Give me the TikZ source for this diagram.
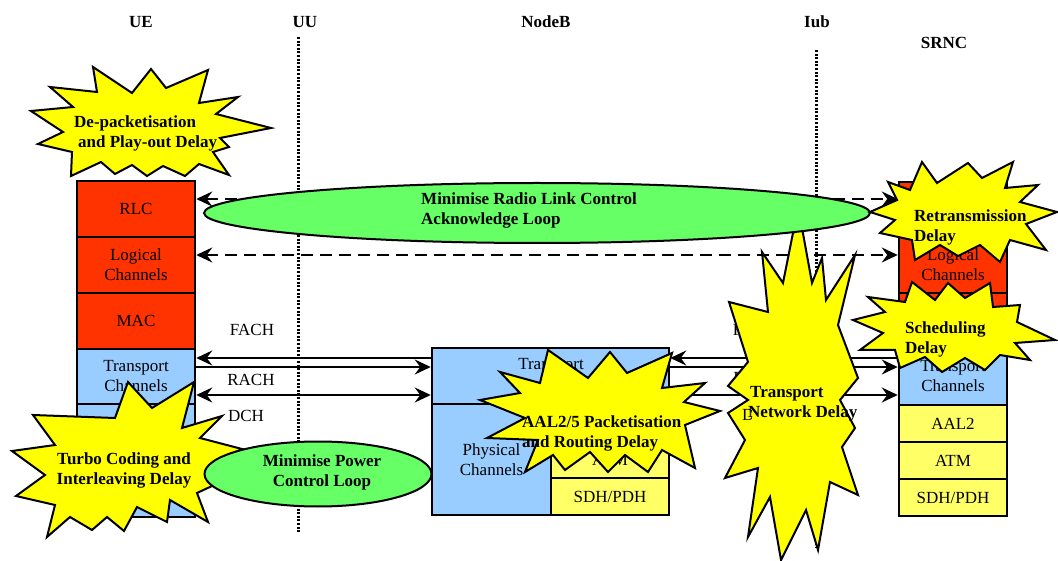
\documentclass[tikz,border=0pt]{standalone}
\usepackage{fontspec}
\setmainfont{Liberation Serif}
\usetikzlibrary{arrows.meta,shapes.geometric}
\definecolor{layerred}{HTML}{FF3300}
\definecolor{layerblue}{HTML}{99CCFF}
\definecolor{layeryellow}{HTML}{FFFF66}
\definecolor{burstyellow}{HTML}{FFFF00}
\definecolor{loopgreen}{HTML}{66FF66}
\tikzset{
  txt/.style={font=\fontsize{17}{20}\selectfont, inner sep=0pt, align=center},
  hdr/.style={font=\bfseries\fontsize{17}{20}\selectfont, inner sep=0pt},
  btxt/.style={font=\bfseries\fontsize{17}{20}\selectfont, inner sep=0pt},
  layerbox/.style={draw=black, line width=2.5pt, inner sep=0pt, txt},
  redlayer/.style={layerbox, fill=layerred},
  bluelayer/.style={layerbox, fill=layerblue},
  yellayer/.style={layerbox, fill=layeryellow},
  uecol/.style={minimum width=118pt},
  srcol/.style={minimum width=108pt},
  iface/.style={line width=3pt, dash pattern=on 2pt off 1.6pt},
  tip/.tip={Stealth[length=16pt,width=15pt,inset=5.5pt]},
  chan/.style={line width=2pt, -tip},
  chanboth/.style={line width=2pt, tip-tip},
  peer/.style={line width=2pt, dash pattern=on 12pt off 7pt, tip-tip},
  burst/.style={draw=black, line width=2pt, fill=burstyellow, line join=miter},
  loopshape/.style={ellipse, draw=black, line width=2pt, fill=loopgreen, inner sep=0pt}
}
\begin{document}
\begin{tikzpicture}[x=1pt,y=-1pt]
\useasboundingbox (0,0) rectangle (1058,561);
\fill[white] (0,0) rectangle (1058,561);

% column headings
\node[hdr] (hUE) at (141,22) {UE};
\node[hdr] (hUU) at (305,22) {UU};
\node[hdr] (hNodeB) at (546,22) {NodeB};
\node[hdr] (hIub) at (817,22) {Iub};
\node[hdr] (hSRNC) at (944,43) {SRNC};

% interfaces
\coordinate (uuTop) at (298,37);
\coordinate (uuBot) at (298,533);
\coordinate (iubTop) at (816,50);
\coordinate (iubBot) at (816,548);
\draw[iface] (uuTop) -- (uuBot);
\draw[iface] (iubTop) -- (iubBot);

% UE protocol stack
\node[redlayer, uecol, minimum height=56pt] (ueRLC) at (136,209) {RLC};
\node[redlayer, uecol, minimum height=56pt] (ueLC) at (136,265) {Logical\\Channels};
\node[redlayer, uecol, minimum height=56pt] (ueMAC) at (136,321) {MAC};
\node[bluelayer, uecol, minimum height=55pt] (ueTC) at (136,376.5) {Transport\\Channels};
\node[bluelayer, uecol, minimum height=113pt] (uePHY) at (136,460.5) {};

% NodeB
\node[bluelayer, minimum width=237pt, minimum height=56pt] (nbTC) at (550.5,376) {};
\node[txt] (nbTCtext) at (551,366) {Transport};
\node[bluelayer, minimum width=119pt, minimum height=111pt] (nbPHY) at (491.5,459.5) {Physical\\Channels};
\node[yellayer, minimum width=118pt, minimum height=37pt] (nbAAL) at (610,422.5) {};
\node[yellayer, minimum width=118pt, minimum height=37pt] (nbATM) at (610,459.5) {ATM};
\node[yellayer, minimum width=118pt, minimum height=37pt] (nbSDH) at (610,496.5) {SDH/PDH};

% SRNC protocol stack
\node[redlayer, srcol, minimum height=55pt] (srRLC) at (953,209.5) {};
\node[redlayer, srcol, minimum height=56pt] (srLC) at (953,265) {Logical\\Channels};
\node[redlayer, srcol, minimum height=55pt] (srMAC) at (953,320.5) {};
\node[bluelayer, srcol, minimum height=57pt] (srTC) at (953,376.5) {Transport\\Channels};
\node[yellayer, srcol, minimum height=37pt] (srAAL) at (953,423.5) {AAL2};
\node[yellayer, srcol, minimum height=37pt] (srATM) at (953,460.5) {ATM};
\node[yellayer, srcol, minimum height=37pt] (srSDH) at (953,497.5) {SDH/PDH};

% rows of the channel arrows
\coordinate (yRLC) at (0,199);
\coordinate (yLog) at (0,255);
\coordinate (yFACH) at (0,358);
\coordinate (yRACH) at (0,367);
\coordinate (yDCH) at (0,395);

% peer-to-peer (dashed) arrows
\draw[peer] (ueRLC.east |- yRLC) -- (srRLC.west |- yRLC);
\draw[peer] (ueLC.east |- yLog) -- (srLC.west |- yLog);

% Uu transport channels
\draw[chan] (nbTC.west |- yFACH) -- (ueTC.east |- yFACH);
\draw[chan] (ueTC.east |- yRACH) -- (nbTC.west |- yRACH);
\draw[chanboth] (ueTC.east |- yDCH) -- (nbTC.west |- yDCH);
\node[txt] (lFACH) at (252,330) {FACH};
\node[txt] (lRACH) at (251,380) {RACH};
\node[txt] (lDCH) at (246,416) {DCH};

% Iub transport channels
\draw[chan] (srTC.west |- yFACH) -- (nbTC.east |- yFACH);
\draw[chan] (nbTC.east |- yRACH) -- (srTC.west |- yRACH);
\draw[chanboth] (nbTC.east |- yDCH) -- (srTC.west |- yDCH);
\node[txt] (rFACH) at (755,330) {FACH};
\node[txt] (rRACH) at (757,378) {RACH};

% transport network delay
\draw[burst] (802,228) -- (812,283) -- (822,258) -- (826,300) -- (855,255) -- (838,325)
  -- (858,378) -- (840,400) -- (855,428) -- (842,447) -- (858,495) -- (830,482)
  -- (818,550) -- (806,510) -- (781,560) -- (770,497) -- (748,537) -- (758,468)
  -- (725,478) -- (745,440) -- (728,413) -- (748,400) -- (728,386) -- (748,362)
  -- (729,302) -- (768,312) -- (762,252) -- (783,283) -- (793,233) -- cycle;
\node[btxt, align=left, anchor=west] (tndText) at (748,404) {\hspace*{2pt}Transport\\Network Delay};
% the DCH label of the Iub side shows only its first letter beside the burst
\begin{scope}
  \clip (730,400) rectangle (751,430);
  \node[txt] (rDCH) at (760,415) {DCH};
\end{scope}

% RLC acknowledge loop
\node[loopshape, minimum width=666pt, minimum height=60pt] (rlcLoop) at (537,213) {};
\node[btxt, align=left, anchor=west] (rlcLoopText) at (421,210) {Minimise Radio Link Control\\Acknowledge Loop};

% de-packetisation delay
\draw[burst] (93,67) -- (132,93) -- (151,69) -- (166,88) -- (208,70) -- (199,103)
  -- (238,97) -- (216,114) -- (271,128) -- (220,138) -- (229,147) -- (213,152)
  -- (229,175) -- (199,164) -- (185,176) -- (163,166) -- (147,176) -- (132,165)
  -- (115,174) -- (101,162) -- (71,176) -- (72,152) -- (38,144) -- (63,132)
  -- (31,111) -- (73,107) -- (50,87) -- (97,92) -- cycle;
\node[btxt, align=left, anchor=west] (depackText) at (74,133.5) {De-packetisation\\\hspace*{4pt}and Play-out Delay};

% turbo coding delay
\draw[burst] (128,382) -- (152,408) -- (194,382) -- (182,428) -- (222,416) -- (200,438)
  -- (242,449) -- (207,468) -- (212,486) -- (197,493) -- (208,522) -- (170,500)
  -- (167,522) -- (137,507) -- (124,531) -- (107,517) -- (92,530) -- (70,517)
  -- (47,537) -- (55,505) -- (16,496) -- (45,475) -- (12,451) -- (55,445)
  -- (33,415) -- (115,418) -- cycle;
\node[btxt, align=center] (turboText) at (124,470) {Turbo Coding and\\Interleaving Delay};

% power control loop
\node[loopshape, minimum width=227pt, minimum height=65pt] (pcLoop) at (318,474) {};
\node[btxt, align=center] (pcLoopText) at (322,472) {Minimise Power\\Control Loop};

% AAL2/5 packetisation delay
\draw[burst] (480,400) -- (520,393) -- (500,372) -- (540,383) -- (548,350) -- (588,378)
  -- (610,352) -- (627,373) -- (672,353) -- (662,388) -- (705,383) -- (684,402)
  -- (720,411) -- (685,425) -- (695,468) -- (662,450) -- (648,472) -- (625,455)
  -- (608,472) -- (590,452) -- (565,470) -- (553,455) -- (525,472) -- (538,440)
  -- (487,438) -- (525,418) -- cycle;
\node[btxt, align=left, anchor=west] (aalText) at (522,433) {AAL2/5 Packetisation\\and Routing Delay};

% retransmission delay
\draw[burst] (888,182) -- (910,190) -- (922,162) -- (937,183) -- (968,163) -- (982,178)
  -- (1013,162) -- (1005,188) -- (1038,185) -- (1020,202) -- (1057,212) -- (1026,224)
  -- (1046,250) -- (1010,240) -- (1000,262) -- (980,245) -- (958,256) -- (940,245)
  -- (915,260) -- (912,240) -- (880,233) -- (895,220) -- (870,212) -- (897,200) -- cycle;
\node[btxt, align=left, anchor=west] (retxText) at (914,227) {Retransmission\\Delay};

% scheduling delay
\draw[burst] (868,297) -- (905,302) -- (912,282) -- (935,300) -- (948,283) -- (965,298)
  -- (990,283) -- (993,307) -- (1020,305) -- (1017,322) -- (1055,340) -- (1015,343)
  -- (1030,360) -- (1000,355) -- (985,370) -- (965,358) -- (942,372) -- (925,357)
  -- (900,368) -- (895,350) -- (860,350) -- (883,333) -- (853,320) -- (885,312) -- cycle;
\node[btxt, align=left, anchor=west] (schedText) at (905,339) {Scheduling\\Delay};
\end{tikzpicture}
\end{document}
